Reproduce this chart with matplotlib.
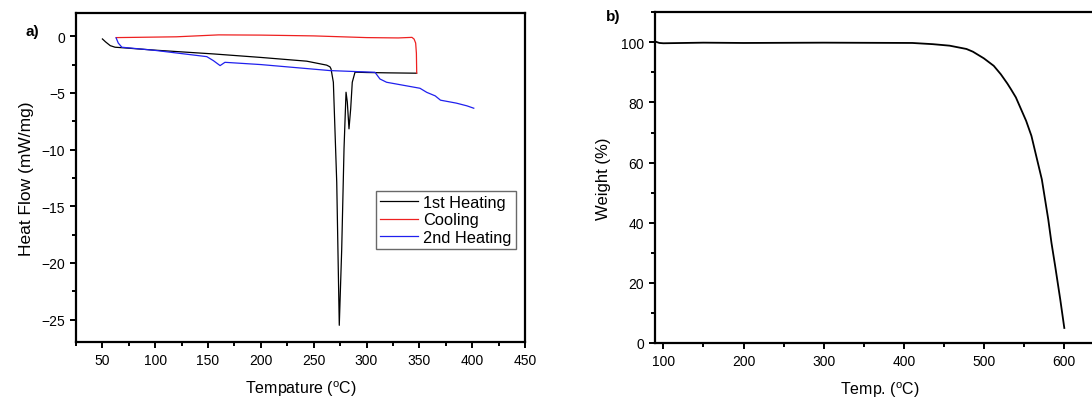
import numpy as np
import matplotlib
matplotlib.use('Agg')
import matplotlib.pyplot as plt
from matplotlib.ticker import MultipleLocator

plt.rcParams['font.family'] = ['Liberation Sans', 'DejaVu Sans']
plt.rcParams['mathtext.fontset'] = 'custom'
plt.rcParams['mathtext.rm'] = 'Liberation Sans'

# DSC curves (a)
heat1_T = [50, 53, 57.4, 62, 66.8, 100, 155, 200, 243.4, 262.3, 265.4, 266.4,
           268.6, 271.8, 274.2, 276.5, 278.7, 280.6, 281.8, 283.4, 285, 286.5,
           289.1, 300, 320, 347.4]
heat1_HF = [-0.24, -0.5, -0.83, -0.97, -1.0, -1.23, -1.56, -1.87, -2.2, -2.55, -2.7, -2.88,
            -4.06, -12.9, -25.5, -18.8, -9.9, -4.94, -5.8, -8.17, -6.4, -4.06,
            -3.17, -3.2, -3.23, -3.26]

cool_T = [347.5, 347.2, 346.5, 345, 343, 330, 300, 250, 200, 160, 120, 80, 63]
cool_HF = [-3.25, -1.5, -0.6, -0.25, -0.1, -0.15, -0.12, 0.03, 0.1, 0.12, -0.05, -0.1, -0.12]

heat2_T = [63, 65, 68.4, 100, 148.8, 155, 161.4, 166, 200, 265.4, 308, 312.7, 319,
           350.6, 357, 365, 370, 385, 395, 401.5]
heat2_HF = [-0.15, -0.6, -0.97, -1.25, -1.8, -2.15, -2.59, -2.3, -2.5, -3.03, -3.18, -3.77, -4.06,
            -4.59, -4.95, -5.26, -5.64, -5.9, -6.14, -6.35]

# TGA curve (b)
tga_T = [90.7, 95, 100, 150, 200, 300, 410.6, 436, 457, 478, 486, 499.6, 512, 520.8,
         529, 533.5, 539.6, 546, 552.4, 559, 565, 572, 580, 584, 588.6, 595, 600]
tga_W = [100.2, 99.8, 99.7, 99.9, 99.8, 99.9, 99.8, 99.4, 98.9, 97.8, 96.9, 94.7, 92.2, 89.4,
         86.3, 84.4, 81.7, 77.8, 73.9, 68.9, 62.2, 54.4, 41.1, 33.3, 25.6, 14.4, 5]

W, H = 1092, 402
fig = plt.figure(figsize=(W / 100, H / 100), dpi=100)

ax1 = fig.add_axes([76 / W, (H - 343.3) / H, 449 / W, 329.3 / H])
ax2 = fig.add_axes([655 / W, (H - 344) / H, 449.4 / W, 330.7 / H])

ax1.plot(heat1_T, heat1_HF, color='black', lw=0.9, label='1st Heating')
ax1.plot(cool_T, cool_HF, color='#ee2020', lw=0.9, label='Cooling')
ax1.plot(heat2_T, heat2_HF, color='#2020ee', lw=0.9, label='2nd Heating')
ax1.set_xlim(25, 450)
ax1.set_ylim(-27, 2.05)
ax1.xaxis.set_major_locator(MultipleLocator(50))
ax1.xaxis.set_minor_locator(MultipleLocator(25))
ax1.yaxis.set_major_locator(MultipleLocator(5))
ax1.yaxis.set_minor_locator(MultipleLocator(2.5))
ax1.set_xlabel(r'Tempature ($^{\mathrm{o}}$C)', fontsize=11.5, labelpad=8)
ax1.set_ylabel('Heat Flow (mW/mg)', fontsize=12.5, labelpad=5)
leg = ax1.legend(loc='upper left', bbox_to_anchor=(0.668, 0.46), borderaxespad=0,
                 fontsize=11.8, frameon=True, fancybox=False, handlelength=2.3,
                 handletextpad=0.35, labelspacing=0.15, borderpad=0.25)
leg.get_frame().set_edgecolor('#444444')
leg.get_frame().set_linewidth(1.0)

ax2.plot(tga_T, tga_W, color='black', lw=1.3)
ax2.set_xlim(89.6, 650)
ax2.set_ylim(0, 110)
ax2.xaxis.set_major_locator(MultipleLocator(100))
ax2.xaxis.set_minor_locator(MultipleLocator(50))
ax2.yaxis.set_major_locator(MultipleLocator(20))
ax2.yaxis.set_minor_locator(MultipleLocator(10))
ax2.set_xticks([100, 200, 300, 400, 500, 600])
ax2.set_xlabel(r'Temp. ($^{\mathrm{o}}$C)', fontsize=11.5, labelpad=8)
ax2.set_ylabel('Weight (%)', fontsize=12, labelpad=7)

for ax in (ax1, ax2):
    for s in ax.spines.values():
        s.set_linewidth(1.6)
    ax.tick_params(which='major', direction='out', length=4.5, width=1.4, labelsize=10)
    ax.tick_params(which='minor', direction='out', length=3, width=1.4)

fig.text(26 / W, 1 - 32 / H, 'a)', fontsize=11, fontweight='bold', va='center', ha='left')
fig.text(606 / W, 1 - 17 / H, 'b)', fontsize=11, fontweight='bold', va='center', ha='left')

fig.savefig('out.png', dpi=100)
